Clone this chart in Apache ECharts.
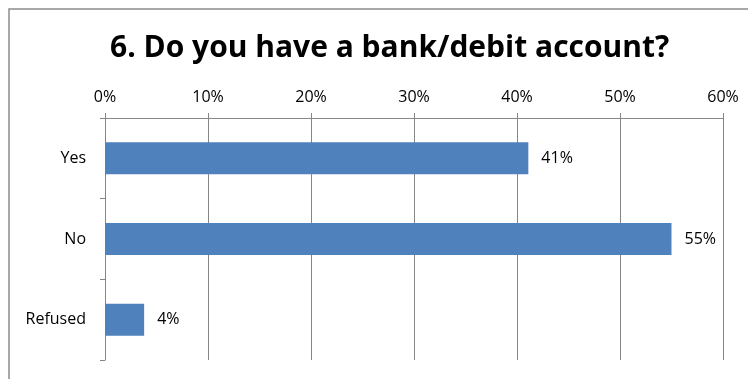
<!DOCTYPE html>
<html>
<head>
<meta charset="utf-8">
<script src="https://cdn.jsdelivr.net/npm/echarts@6/dist/echarts.min.js"></script>
<style>html,body{margin:0;padding:0;background:#fff}#c{width:748px;height:379px}</style>
</head>
<body>
<div id="c"></div>
<script>
var titleText = '6. Do you have a bank/debit account?';
var categories = ['Yes', 'No', 'Refused'];
var values = [41.1, 55.0, 3.8];
var axisMin = 0, axisMax = 60, axisStep = 10;

var chart = echarts.init(document.getElementById('c'));
var font = '"Open Sans", Lato, sans-serif';
chart.setOption({
  animation: false,
  backgroundColor: '#fff',
  title: {
    text: titleText, left: 105, top: 28,
    textStyle: {fontFamily: font, fontWeight: 'bold', fontSize: 30, color: '#000'}
  },
  graphic: [{
    type: 'polyline', shape: {points: [[9, 420], [9, 9], [800, 9]]},
    style: {fill: 'none', stroke: '#8c8c8c', lineWidth: 1.5}, silent: true
  }],
  grid: {left: 105, right: 25, top: 118, bottom: 19},
  xAxis: {
    type: 'value', position: 'top', min: axisMin, max: axisMax, interval: axisStep,
    axisLabel: {formatter: '{value}%', fontFamily: font, fontSize: 16, color: '#000', margin: 13},
    axisLine: {show: true, lineStyle: {color: '#868686'}},
    axisTick: {show: true, length: 5, lineStyle: {color: '#868686'}},
    splitLine: {show: true, lineStyle: {color: '#868686'}}
  },
  yAxis: {
    type: 'category', inverse: true, data: categories,
    axisLabel: {fontFamily: font, fontSize: 16, color: '#000', margin: 19},
    axisLine: {show: true, lineStyle: {color: '#868686'}},
    axisTick: {show: true, length: 5, lineStyle: {color: '#868686'}}
  },
  series: [{
    type: 'bar', data: values, barWidth: 32,
    itemStyle: {color: '#4F81BD'},
    label: {show: true, position: 'right', distance: 13, fontFamily: font, fontSize: 16, color: '#000',
      formatter: function (p) { return Math.round(p.value) + '%'; }}
  }]
});
</script>
</body>
</html>
